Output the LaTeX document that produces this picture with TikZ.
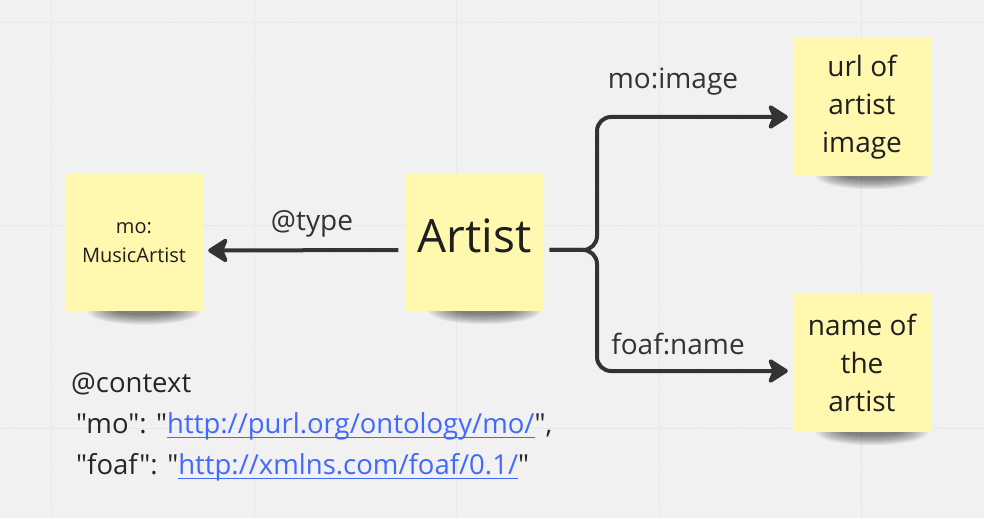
\documentclass[tikz,border=0pt]{standalone}
\usepackage{fontspec}
\setmainfont{Open Sans}[Ligatures=TeXOff]
\usetikzlibrary{arrows.meta,calc}
\definecolor{notecol}{RGB}{255,248,174}
\definecolor{inkcol}{RGB}{51,51,51}
\definecolor{linkcol}{RGB}{66,105,255}
\definecolor{bgcol}{RGB}{241,241,241}
\newcommand{\ulink}[1]{\textcolor{linkcol}{\setbox0\hbox{#1}\rlap{\rule[-4.5pt]{\wd0}{1.4pt}}\box0}}
\begin{document}
\begin{tikzpicture}[x=1pt,y=-1pt,
  note/.style={fill=notecol,minimum width=138pt,minimum height=138pt,
    inner sep=0pt,align=center,text=black!88,font=\fontsize{28}{38}\selectfont},
  link/.style={line width=4pt,draw=inkcol,
    -{Stealth[length=23pt,width=29pt,inset=6pt,round]}},
  lab/.style={text=inkcol,font=\fontsize{28}{32}\selectfont}]
  \fill[bgcol](0,0) rectangle (984,518);
  \useasboundingbox (0,0) rectangle (984,518);
  \foreach \gx in {11,51.5,...,984} \draw[black!5,line width=1pt](\gx,0)--(\gx,518);
  \foreach \gy in {23,63.5,...,518} \draw[black!5,line width=1pt](0,\gy)--(984,\gy);
  \foreach \gx in {51.5,254,...,984} \draw[black!9,line width=1pt](\gx,0)--(\gx,518);
  \foreach \gy in {23,225.5,...,518} \draw[black!9,line width=1pt](0,\gy)--(984,\gy);

  \node[note,font=\fontsize{20}{29}\selectfont] (mo) at (134,242.5) {mo:\\MusicArtist};
  \node[note,font=\fontsize{46}{50}\selectfont,text depth=13pt] (artist) at (474.5,242) {Artist};
  \node[note] (url) at (862,107) {url of\\artist\\image};
  \node[note] (name) at (862,363) {name of\\the\\artist};
  \foreach \n in {mo,artist,url,name}{
    \begin{scope}
      \clip (\n.south west) rectangle ++(138,16);
      \foreach \k in {0,...,9}
        \fill[black,opacity=.06]($(\n.south)+(10,0)$)
          ellipse [x radius=56-3.2*\k, y radius=13-1.1*\k];
    \end{scope}}

  \coordinate (fork) at (597,250);
  \draw[link] ([xshift=-7pt,yshift=-8pt]artist.west) -- ([xshift=5pt,yshift=-8pt]mo.east);
  \draw[link,rounded corners=14pt] ([xshift=6pt,yshift=-8pt]artist.east) -- (fork)
    |- ([xshift=-5pt,yshift=-10pt]url.west);
  \draw[link,rounded corners=14pt] ([xshift=6pt,yshift=-8pt]artist.east) -- (fork)
    |- ([xshift=-5pt,yshift=-8pt]name.west);
  \node[lab] (typelab) at (312,224) {@type};
  \node[lab] (imglab) at (673,82) {mo:image};
  \node[lab] (namelab) at (678,344) {foaf:name};

  \node[anchor=north west,inner sep=0pt,align=left,text=black!85,
    font=\fontsize{27.5}{41}\selectfont] (context) at (71,373)
    {@context\\
     \hspace{5pt}"mo": "\ulink{http://purl.org/ontology/mo/}",\\
     \hspace{5pt}"foaf": "\ulink{http://xmlns.com/foaf/0.1/}"};
\end{tikzpicture}
\end{document}
